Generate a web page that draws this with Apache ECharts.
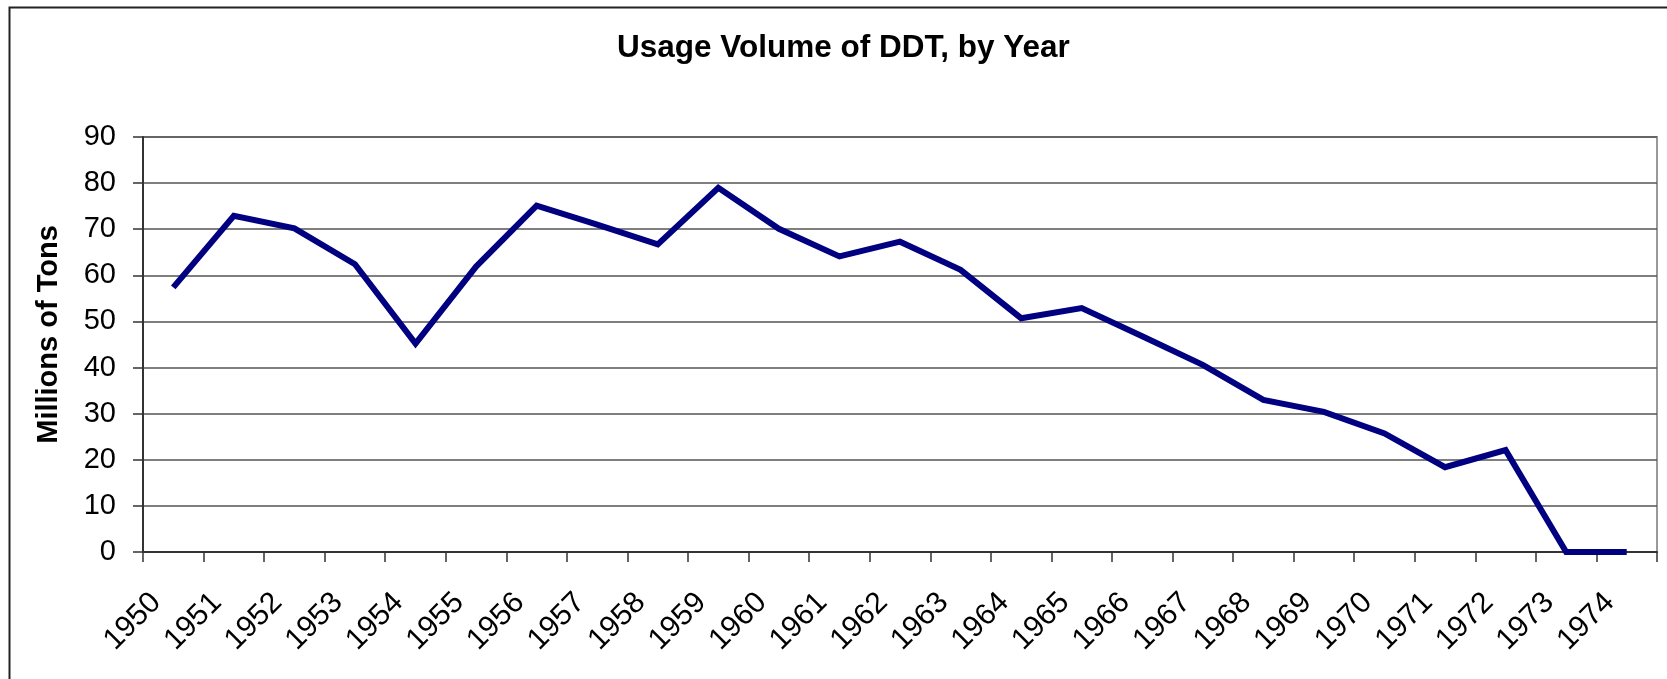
<!DOCTYPE html>
<html>
<head>
<meta charset="utf-8">
<title>Usage Volume of DDT, by Year</title>
<script src="https://cdn.jsdelivr.net/npm/echarts@6/dist/echarts.min.js"></script>
<style>
    html, body { margin: 0; padding: 0; background: #fff; }
    #ddt_usage { width: 1667px; height: 679px; }
</style>
</head>
<body>
<div id="ddt_usage"></div>
<script>

// Chart data
// ------------------------------

// Axis [1950, 1951, ...]
var labelAxisYears = ['1950', '1951', '1952', '1953', '1954', '1955', '1956', '1957', '1958',
    '1959', '1960', '1961', '1962', '1963', '1964', '1965', '1966', '1967', '1968',
    '1969', '1970', '1971', '1972', '1973', '1974'];

// Millions of tons
var usageValues = [57.4, 72.9, 70.2, 62.4, 45.2, 61.9, 75.1, 71.0, 66.7,
    79.0, 70.1, 64.1, 67.3, 61.2, 50.7, 52.9, 46.8, 40.6, 33.0,
    30.4, 25.7, 18.4, 22.1, 0, 0];

// Vertical axis ticks
var tickMin = 0;
var tickMax = 90;
var tickStep = 10;


// Setup chart
// ------------------------------

var usage_element = document.getElementById('ddt_usage');
var usage_chart = echarts.init(usage_element);

var fontArial = 'Arial, "Liberation Sans", sans-serif';

usage_chart.setOption({

    animation: false,

    // Global text styles
    textStyle: {
        fontFamily: fontArial
    },

    // Outer frame
    graphic: [{
        type: 'rect',
        left: 7,
        top: 5,
        shape: { width: 1700, height: 720 },
        style: { fill: 'none', stroke: '#222', lineWidth: 2 },
        silent: true
    }],

    // Title
    title: {
        text: 'Usage Volume of DDT, by Year',
        left: 612,
        top: 27,
        textStyle: {
            fontFamily: fontArial,
            fontSize: 31.5,
            fontWeight: 'bold',
            color: '#000'
        }
    },

    // Setup grid
    grid: {
        left: 143,
        right: 10,
        top: 137,
        bottom: 127,
        containLabel: false,
        show: true,
        borderColor: '#999',
        borderWidth: 2
    },

    // Horizontal axis
    xAxis: [{
        type: 'category',
        data: labelAxisYears,
        boundaryGap: true,
        axisLabel: {
            interval: 0,
            rotate: 45,
            margin: 29,
            padding: [0, 24, 0, 0],
            color: '#000',
            fontSize: 30,
            fontFamily: fontArial
        },
        axisTick: {
            show: true,
            length: 10,
            interval: 0,
            lineStyle: { color: '#333', width: 1.5 }
        },
        axisLine: {
            lineStyle: { color: '#333', width: 2 }
        },
        splitLine: { show: false }
    }],

    // Vertical axis
    yAxis: [{
        type: 'value',
        min: tickMin,
        max: tickMax,
        interval: tickStep,
        name: 'Millions of Tons',
        nameLocation: 'middle',
        nameGap: 80,
        nameTextStyle: {
            fontFamily: fontArial,
            fontSize: 29,
            fontWeight: 'bold',
            color: '#000',
            padding: [0, 0, 0, 20]
        },
        axisLabel: {
            margin: 27,
            color: '#000',
            fontSize: 29,
            fontFamily: fontArial
        },
        axisTick: {
            show: true,
            length: 10,
            lineStyle: { color: '#333', width: 1.5 }
        },
        axisLine: {
            show: true,
            lineStyle: { color: '#333', width: 2 }
        },
        splitLine: {
            show: true,
            lineStyle: { color: '#555', width: 1.5 }
        }
    }],

    // Add series
    series: [{
        name: 'Usage',
        type: 'line',
        data: usageValues,
        showSymbol: false,
        symbol: 'none',
        lineStyle: {
            color: '#000080',
            width: 6,
            join: 'miter'
        }
    }]
});
</script>
</body>
</html>
